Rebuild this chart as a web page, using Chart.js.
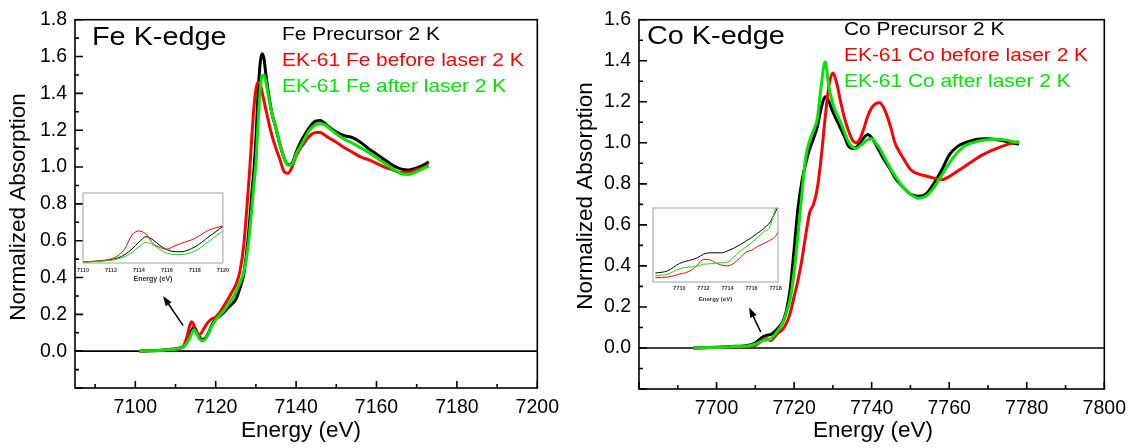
<!DOCTYPE html>
<html>
<head>
<meta charset="utf-8">
<script src="https://cdn.jsdelivr.net/npm/chart.js@4.4.1/dist/chart.umd.min.js"></script>
<style>
  html, body { margin: 0; padding: 0; background: #fff; }
  #wrap { position: relative; width: 1134px; height: 448px; overflow: hidden; }
  canvas { position: absolute; }
</style>
</head>
<body>
<div id="wrap">
  <canvas id="feMain" width="567" height="448" style="left:0;top:0"></canvas>
  <canvas id="coMain" width="567" height="448" style="left:567px;top:0"></canvas>
  <canvas id="feInset" width="161" height="100" style="left:72px;top:188px"></canvas>
  <canvas id="coInset" width="145" height="105" style="left:643px;top:202px"></canvas>
</div>
<script>
// ---- Fe K-edge, main panel
const feEnergy = [7101, 7104, 7107, 7109, 7110, 7111, 7112, 7113, 7113.5, 7114, 7114.5, 7115, 7115.5, 7116, 7116.5, 7117,
  7118, 7119, 7120, 7121, 7122, 7123, 7124, 7125, 7126, 7127, 7128, 7128.5, 7129, 7129.5, 7130, 7130.5, 7131, 7131.5,
  7132, 7132.5, 7133, 7134, 7135, 7136, 7137, 7138, 7139, 7140, 7141, 7142, 7143, 7144, 7145, 7146, 7147, 7148,
  7150, 7152, 7154, 7156, 7158, 7160, 7162, 7164, 7166, 7168, 7170, 7172, 7173];
const fePrecursor = [0.000, 0.002, 0.005, 0.010, 0.012, 0.016, 0.025, 0.060, 0.085, 0.110, 0.130, 0.120, 0.095, 0.075, 0.065, 0.065,
  0.090, 0.140, 0.175, 0.190, 0.210, 0.235, 0.255, 0.280, 0.340, 0.420, 0.600, 0.720, 0.860, 0.980, 1.150, 1.380, 1.550, 1.615,
  1.590, 1.500, 1.420, 1.290, 1.210, 1.120, 1.050, 1.012, 1.020, 1.080, 1.130, 1.170, 1.205, 1.235, 1.250, 1.252, 1.240, 1.220,
  1.190, 1.170, 1.160, 1.135, 1.100, 1.070, 1.040, 1.010, 0.990, 0.984, 0.995, 1.015, 1.028];
const feBefore = [0.000, 0.003, 0.006, 0.010, 0.012, 0.017, 0.028, 0.090, 0.135, 0.160, 0.145, 0.115, 0.095, 0.090, 0.100, 0.120,
  0.155, 0.175, 0.185, 0.210, 0.245, 0.280, 0.320, 0.360, 0.430, 0.580, 0.850, 1.000, 1.170, 1.320, 1.420, 1.460, 1.455, 1.410,
  1.360, 1.310, 1.260, 1.170, 1.100, 1.040, 0.975, 0.966, 1.000, 1.060, 1.100, 1.130, 1.160, 1.180, 1.188, 1.187, 1.175, 1.160,
  1.135, 1.105, 1.080, 1.055, 1.040, 1.020, 1.000, 0.985, 0.970, 0.972, 0.985, 1.000, 1.008];
const feAfter = [0.000, 0.002, 0.005, 0.009, 0.011, 0.015, 0.022, 0.050, 0.070, 0.095, 0.115, 0.105, 0.085, 0.065, 0.057, 0.058,
  0.085, 0.135, 0.170, 0.195, 0.220, 0.250, 0.280, 0.320, 0.370, 0.430, 0.560, 0.660, 0.780, 0.900, 1.020, 1.220, 1.400, 1.490,
  1.500, 1.460, 1.400, 1.290, 1.210, 1.120, 1.050, 1.010, 1.015, 1.070, 1.110, 1.150, 1.190, 1.215, 1.230, 1.235, 1.230, 1.215,
  1.180, 1.150, 1.130, 1.105, 1.080, 1.050, 1.020, 0.990, 0.965, 0.960, 0.975, 0.995, 1.005];
const feXTicks = [7100, 7120, 7140, 7160, 7180, 7200];
const feYTicks = [0, 0.2, 0.4, 0.6, 0.8, 1.0, 1.2, 1.4, 1.6, 1.8];

// ---- Fe pre-edge inset
const feInsetEnergy = [7110, 7111, 7112, 7112.5, 7113, 7113.5, 7114, 7114.5, 7115, 7115.5, 7116, 7116.5, 7117, 7118, 7119, 7120];
const feInsetPrecursor = [0.005, 0.008, 0.016, 0.024, 0.040, 0.066, 0.099, 0.124, 0.109, 0.083, 0.063, 0.054, 0.053, 0.076, 0.124, 0.172];
const feInsetBefore = [0.005, 0.010, 0.019, 0.035, 0.068, 0.132, 0.151, 0.136, 0.092, 0.073, 0.065, 0.079, 0.092, 0.116, 0.155, 0.175];
const feInsetAfter = [0.003, 0.007, 0.013, 0.020, 0.030, 0.050, 0.076, 0.097, 0.086, 0.063, 0.046, 0.040, 0.040, 0.056, 0.102, 0.152];
const feInsetTicks = [7110, 7112, 7114, 7116, 7118, 7120];

// ---- Co K-edge, main panel
const coEnergy = [7694, 7698, 7702, 7705, 7708, 7710, 7711, 7712, 7713, 7714, 7715, 7716, 7717, 7718, 7719, 7720, 7721, 7722,
  7723, 7724, 7725, 7726, 7727, 7728, 7729, 7730, 7731, 7732, 7733, 7734, 7735, 7736, 7737, 7738, 7739, 7740, 7741, 7742,
  7743, 7744, 7745, 7746, 7748, 7750, 7752, 7754, 7756, 7758, 7760, 7762, 7764, 7766, 7768, 7770, 7772, 7774, 7776, 7778];
const coPrecursor = [0.000, 0.002, 0.005, 0.008, 0.012, 0.025, 0.040, 0.055, 0.062, 0.066, 0.080, 0.100, 0.125, 0.180, 0.290, 0.480, 0.680, 0.810,
  0.900, 0.970, 1.020, 1.080, 1.170, 1.225, 1.200, 1.150, 1.110, 1.070, 1.030, 0.985, 0.972, 0.978, 1.000, 1.025, 1.040, 1.025, 0.995, 0.960,
  0.925, 0.895, 0.865, 0.830, 0.785, 0.750, 0.740, 0.750, 0.800, 0.865, 0.940, 0.980, 1.000, 1.012, 1.018, 1.020, 1.016, 1.010, 1.000, 0.993];
const coBefore = [0.000, 0.001, 0.003, 0.005, 0.007, 0.013, 0.025, 0.042, 0.045, 0.036, 0.055, 0.075, 0.090, 0.120, 0.170, 0.250, 0.330, 0.430,
  0.550, 0.660, 0.700, 0.780, 0.930, 1.120, 1.280, 1.340, 1.290, 1.200, 1.120, 1.060, 1.015, 1.000, 1.020, 1.070, 1.130, 1.170, 1.190, 1.195,
  1.175, 1.130, 1.070, 1.000, 0.930, 0.870, 0.848, 0.838, 0.828, 0.820, 0.835, 0.860, 0.885, 0.910, 0.935, 0.955, 0.970, 0.985, 0.997, 1.005];
const coAfter = [0.000, 0.002, 0.004, 0.007, 0.010, 0.018, 0.028, 0.036, 0.040, 0.045, 0.065, 0.090, 0.120, 0.170, 0.240, 0.370, 0.550, 0.750,
  0.930, 1.010, 1.060, 1.120, 1.280, 1.395, 1.270, 1.190, 1.140, 1.100, 1.050, 1.005, 0.980, 0.972, 0.985, 1.000, 1.015, 1.020, 1.000, 0.975,
  0.940, 0.905, 0.870, 0.840, 0.785, 0.750, 0.730, 0.740, 0.780, 0.840, 0.900, 0.950, 0.985, 1.000, 1.010, 1.015, 1.017, 1.015, 1.008, 1.000];
const coXTicks = [7700, 7720, 7740, 7760, 7780, 7800];
const coYTicks = [0, 0.2, 0.4, 0.6, 0.8, 1.0, 1.2, 1.4, 1.6];

// ---- Co pre-edge inset
const coInsetEnergy = [7708, 7709, 7710, 7711, 7711.5, 7712, 7712.5, 7713, 7713.5, 7714, 7714.5, 7715, 7715.5, 7716, 7716.5, 7717, 7717.5, 7718, 7718.3];
const coInsetPrecursor = [0.037, 0.041, 0.055, 0.062, 0.066, 0.0725, 0.0753, 0.0753, 0.0753, 0.0788, 0.0837, 0.090, 0.097, 0.104, 0.1124, 0.1208, 0.132, 0.153, 0.167];
const coInsetBefore = [0.0283, 0.0295, 0.0347, 0.0424, 0.0522, 0.0627, 0.062, 0.0564, 0.0519, 0.0505, 0.055, 0.0648, 0.076, 0.0802, 0.0872, 0.0928, 0.0984, 0.1068, 0.1187];
const coInsetAfter = [0.032, 0.0347, 0.0452, 0.0487, 0.050, 0.0536, 0.0543, 0.0557, 0.0564, 0.0578, 0.0662, 0.0774, 0.0858, 0.0942, 0.104, 0.115, 0.1236, 0.160, 0.174];
const coInsetTicks = [7710, 7712, 7714, 7716, 7718];

const BLACK = '#000000';
const RED = '#ff0000';
const GREEN = '#00e600';
const FONT = "'Liberation Sans', Arial, sans-serif";
const S = 1.13; // the legend / panel lettering is a bit wider than normal

Chart.defaults.font.family = FONT;
Chart.defaults.color = '#000';

function series(xs, ys, color, width, order) {
  return {
    data: xs.map((x, i) => ({ x: x, y: ys[i] })),
    borderColor: color,
    borderWidth: width,
    pointRadius: 0,
    fill: false,
    cubicInterpolationMode: 'monotone',
    order: order
  };
}

function stepValues(min, max, step) {
  const out = [];
  for (let v = Math.ceil(min / step - 1e-6) * step; v <= max + 1e-6; v += step) out.push(v);
  return out;
}

function wideText(ctx, txt, px, py, font, color) {
  ctx.save();
  ctx.font = font;
  ctx.fillStyle = color;
  ctx.textAlign = 'left';
  ctx.textBaseline = 'alphabetic';
  ctx.translate(px, py);
  ctx.scale(S, 1);
  ctx.fillText(txt, 0, 0);
  ctx.restore();
}

// frame, inward ticks, zero line, arrow and all the free text
const decor = {
  id: 'decor',
  beforeDatasetsDraw(chart, args, o) {
    const { ctx, chartArea: a, scales: { x, y } } = chart;
    ctx.save();
    if (o.inset) {
      ctx.fillStyle = '#fff';
      ctx.fillRect(a.left, a.top, a.width, a.height);
    } else {
      const y0 = y.getPixelForValue(0);
      ctx.strokeStyle = '#000';
      ctx.lineWidth = 1.6;
      ctx.beginPath();
      ctx.moveTo(a.left, y0);
      ctx.lineTo(a.right, y0);
      ctx.stroke();
    }
    ctx.restore();
  },
  afterDatasetsDraw(chart, args, o) {
    const { ctx, chartArea: a, scales: { x, y } } = chart;
    ctx.save();
    ctx.strokeStyle = o.inset ? '#a0a0a0' : '#000';
    ctx.lineWidth = o.inset ? 1 : 1.6;
    ctx.strokeRect(a.left, a.top, a.width, a.height);
    if (o.inset) { ctx.restore(); return; }

    ctx.beginPath();
    stepValues(x.min, x.max, o.xMinor).forEach(v => {
      const px = x.getPixelForValue(v);
      const major = Math.abs(v / o.xMajor - Math.round(v / o.xMajor)) < 1e-6;
      ctx.moveTo(px, a.bottom);
      ctx.lineTo(px, a.bottom - (major ? 7 : 4));
    });
    stepValues(y.min, y.max, o.yMinor).forEach(v => {
      const py = y.getPixelForValue(v);
      const major = Math.abs(v / o.yMajor - Math.round(v / o.yMajor)) < 1e-6;
      ctx.moveTo(a.left, py);
      ctx.lineTo(a.left + (major ? 8 : 4), py);
    });
    ctx.stroke();

    // arrow pointing to the pre-edge inset
    const x0 = x.getPixelForValue(o.arrow[0]), y0 = y.getPixelForValue(o.arrow[1]);
    const x1 = x.getPixelForValue(o.arrow[2]), y1 = y.getPixelForValue(o.arrow[3]);
    const ang = Math.atan2(y1 - y0, x1 - x0);
    const c = Math.cos(ang), s = Math.sin(ang);
    ctx.lineWidth = 1.5;
    ctx.beginPath();
    ctx.moveTo(x0, y0);
    ctx.lineTo(x1 - 7 * c, y1 - 7 * s);
    ctx.stroke();
    ctx.fillStyle = '#000';
    ctx.beginPath();
    ctx.moveTo(x1, y1);
    ctx.lineTo(x1 - 10 * c + 3.5 * s, y1 - 10 * s - 3.5 * c);
    ctx.lineTo(x1 - 10 * c - 3.5 * s, y1 - 10 * s + 3.5 * c);
    ctx.closePath();
    ctx.fill();

    // panel name and legend
    wideText(ctx, o.title, o.titlePos[0], o.titlePos[1], '25.5px ' + FONT, '#000');
    o.legend.forEach((t, i) => {
      wideText(ctx, t, o.legendPos[0], o.legendPos[1] + i * o.legendGap, '18.5px ' + FONT, o.legendColors[i]);
    });

    // axis titles
    ctx.fillStyle = '#000';
    ctx.font = '22.5px ' + FONT;
    ctx.textAlign = 'center';
    ctx.textBaseline = 'alphabetic';
    ctx.fillText('Energy (eV)', o.xTitlePos[0], o.xTitlePos[1]);
    ctx.translate(o.yTitlePos[0], o.yTitlePos[1]);
    ctx.rotate(-Math.PI / 2);
    ctx.textBaseline = 'middle';
    ctx.fillText('Normalized Absorption', 0, 0);
    ctx.restore();
  }
};

function mainChart(id, p) {
  return new Chart(document.getElementById(id), {
    type: 'line',
    data: {
      datasets: [
        series(p.energy, p.values[0], BLACK, 3, 3),
        series(p.energy, p.values[1], RED, 3, 2),
        series(p.energy, p.values[2], GREEN, 3, 1)
      ]
    },
    options: {
      responsive: false,
      animation: false,
      devicePixelRatio: 1,
      layout: { padding: { top: 15, right: p.padRight, left: 0, bottom: 0 } },
      plugins: {
        legend: { display: false },
        tooltip: { enabled: false },
        decor: p.decor
      },
      scales: {
        x: {
          type: 'linear', min: p.xMin, max: p.xMax,
          grid: { display: false, drawTicks: false },
          border: { display: false },
          afterBuildTicks: s => { s.ticks = p.xTicks.map(v => ({ value: v })); },
          afterFit: s => { s.height = p.xAxisH; },
          ticks: { autoSkip: false, maxRotation: 0, padding: 8, color: '#000', font: { size: 19.5 }, callback: v => String(v) }
        },
        y: {
          type: 'linear', min: -0.2, max: p.yMax,
          grid: { display: false, drawTicks: false },
          border: { display: false },
          afterBuildTicks: s => { s.ticks = p.yTicks.map(v => ({ value: v })); },
          afterFit: s => { s.width = p.yAxisW; },
          ticks: { autoSkip: false, padding: 8, color: '#000', font: { size: 19.5 }, callback: v => v.toFixed(1) }
        }
      }
    },
    plugins: [decor]
  });
}

function insetChart(id, p) {
  return new Chart(document.getElementById(id), {
    type: 'line',
    data: {
      datasets: [
        series(p.energy, p.values[0], BLACK, 1, 3),
        series(p.energy, p.values[1], RED, 1, 2),
        series(p.energy, p.values[2], GREEN, 1, 1)
      ]
    },
    options: {
      responsive: false,
      animation: false,
      devicePixelRatio: 1,
      layout: { padding: { top: p.pad[0], right: p.pad[1], left: p.pad[2], bottom: 0 } },
      plugins: { legend: { display: false }, tooltip: { enabled: false }, decor: { inset: true } },
      scales: {
        x: {
          type: 'linear', min: p.xMin, max: p.xMax,
          grid: { display: false, drawTicks: false },
          border: { display: false },
          afterBuildTicks: s => { s.ticks = p.xTicks.map(v => ({ value: v })); },
          afterFit: s => { s.height = p.xAxisH; },
          ticks: { autoSkip: false, maxRotation: 0, padding: p.tickPad, color: '#333', font: { size: 5.5, weight: 'bold' }, callback: v => String(v) },
          title: { display: true, text: 'Energy (eV)', color: '#333', font: { size: p.titleSize, weight: 'bold' }, padding: { top: 0, bottom: p.titlePad } }
        },
        y: { display: false, min: p.yMin, max: p.yMax }
      }
    },
    plugins: [decor]
  });
}

mainChart('feMain', {
  energy: feEnergy, values: [fePrecursor, feBefore, feAfter],
  xMin: 7085, xMax: 7200, yMax: 1.8, xTicks: feXTicks, yTicks: feYTicks,
  padRight: 28, yAxisW: 75, xAxisH: 60,
  decor: {
    xMajor: 20, xMinor: 10, yMajor: 0.2, yMinor: 0.1,
    arrow: [7111.9, 0.139, 7106.9, 0.30],
    title: 'Fe K-edge', titlePos: [92, 45],
    legend: ['Fe Precursor 2 K', 'EK-61 Fe before laser 2 K', 'EK-61 Fe after laser 2 K'],
    legendColors: [BLACK, RED, GREEN], legendPos: [282, 39.5], legendGap: 26.2,
    xTitlePos: [301, 437], yTitlePos: [19, 207]
  }
});

mainChart('coMain', {
  energy: coEnergy, values: [coPrecursor, coBefore, coAfter],
  xMin: 7680, xMax: 7800, yMax: 1.6, xTicks: coXTicks, yTicks: coYTicks,
  padRight: 29, yAxisW: 72, xAxisH: 59,
  decor: {
    xMajor: 20, xMinor: 10, yMajor: 0.2, yMinor: 0.1,
    arrow: [7711.4, 0.077, 7708.4, 0.197],
    title: 'Co K-edge', titlePos: [80, 43.5],
    legend: ['Co Precursor 2 K', 'EK-61 Co before laser 2 K', 'EK-61 Co after laser 2 K'],
    legendColors: [BLACK, RED, GREEN], legendPos: [277, 35], legendGap: 26.2,
    xTitlePos: [306, 437], yTitlePos: [19, 196]
  }
});

insetChart('feInset', {
  energy: feInsetEnergy, values: [feInsetPrecursor, feInsetBefore, feInsetAfter],
  xMin: 7110, xMax: 7120, yMin: 0, yMax: 0.33, xTicks: feInsetTicks,
  pad: [5, 10, 11], xAxisH: 25, tickPad: 4, titleSize: 7, titlePad: 4.5
});

insetChart('coInset', {
  energy: coInsetEnergy, values: [coInsetPrecursor, coInsetBefore, coInsetAfter],
  xMin: 7707.8, xMax: 7718.2, yMin: 0.02, yMax: 0.16, xTicks: coInsetTicks,
  pad: [6, 10, 10], xAxisH: 25, tickPad: 3.5, titleSize: 6, titlePad: 4
});
</script>
</body>
</html>
